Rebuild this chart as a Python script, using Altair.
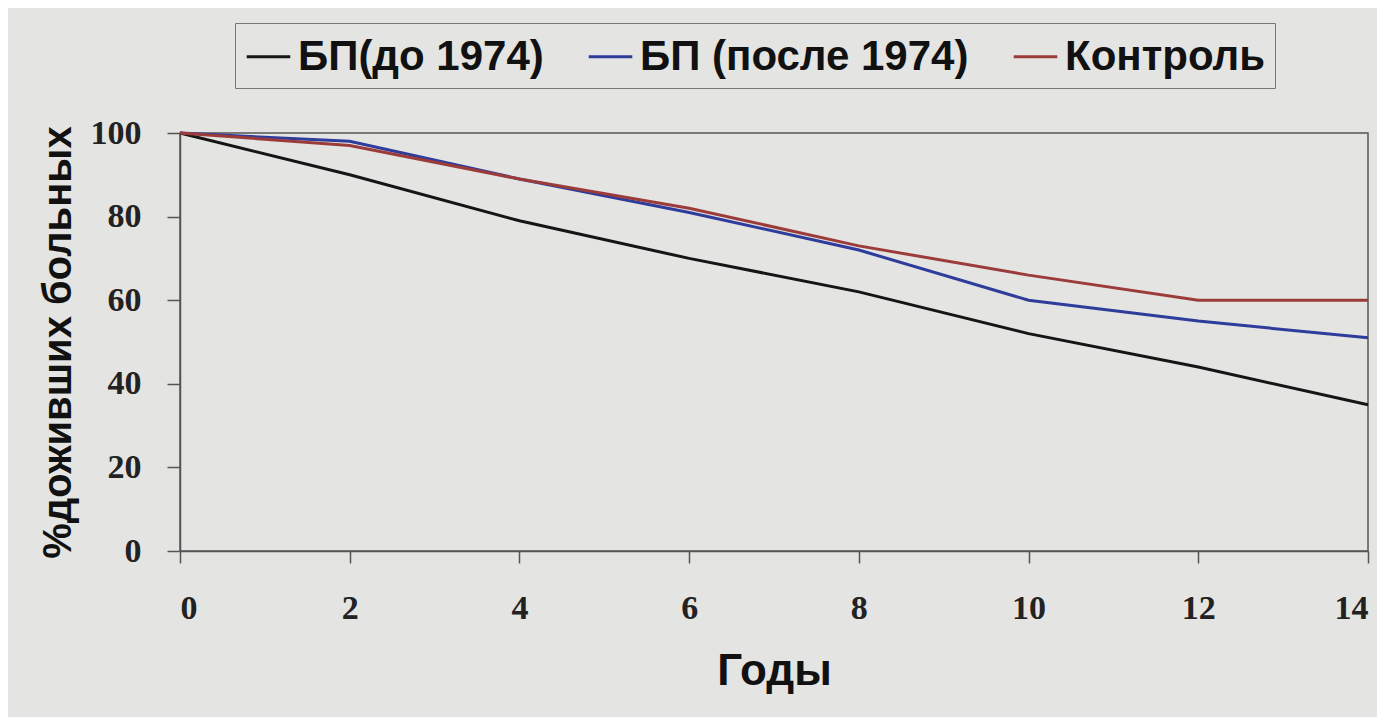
import altair as alt
import pandas as pd

years = [0, 2, 4, 6, 8, 10, 12, 14]
series_names = ["БП(до 1974)", "БП (после 1974)", "Контроль"]
bp_before = [100, 90, 79, 70, 62, 52, 44, 35]
bp_after = [100, 98, 89, 81, 72, 60, 55, 51]
control = [100, 97, 89, 82, 73, 66, 60, 60]
colors = ["#151515", "#2e3c9c", "#9c3c3a"]
x_ticks = [0, 2, 4, 6, 8, 10, 12, 14]
y_ticks = [0, 20, 40, 60, 80, 100]

rows = []
for name, vals in zip(series_names, [bp_before, bp_after, control]):
    for yr, v in zip(years, vals):
        rows.append({"year": yr, "value": v, "series": name})
df = pd.DataFrame(rows)

bg = "#e4e4e2"

chart = (
    alt.Chart(df)
    .mark_line(strokeWidth=3)
    .encode(
        x=alt.X(
            "year:Q",
            scale=alt.Scale(domain=[0, 14], nice=False),
            axis=alt.Axis(
                values=x_ticks,
                title="Годы",
                grid=False,
                labelFont="Liberation Serif",
                labelFontSize=34,
                labelFontWeight="bold",
                labelColor="#222",
                labelPadding=28,
                tickSize=12,
                tickColor="#555",
                domainColor="#555",
                domainWidth=1.5,
                tickWidth=1.5,
                titleFont="Liberation Sans",
                titleFontSize=44,
                titleFontWeight="bold",
                titleColor="#111",
                titlePadding=24,
            ),
        ),
        y=alt.Y(
            "value:Q",
            scale=alt.Scale(domain=[0, 100], nice=False),
            axis=alt.Axis(
                values=y_ticks,
                title="%доживших больных",
                grid=False,
                labelFont="Liberation Serif",
                labelFontSize=34,
                labelFontWeight="bold",
                labelColor="#222",
                labelPadding=26,
                tickSize=13,
                tickColor="#555",
                domainColor="#555",
                domainWidth=1.5,
                tickWidth=1.5,
                titleFont="Liberation Sans",
                titleFontSize=40,
                titleFontWeight="bold",
                titleColor="#111",
                titlePadding=12,
            ),
        ),
        color=alt.Color(
            "series:N",
            sort=series_names,
            scale=alt.Scale(domain=series_names, range=colors),
            legend=alt.Legend(
                orient="none",
                legendX=55,
                legendY=-110,
                direction="horizontal",
                title=None,
                symbolType="stroke",
                symbolSize=1900,
                symbolStrokeWidth=3,
                labelFont="Liberation Sans",
                labelFontSize=42,
                labelFontWeight="bold",
                labelColor="#111",
                labelLimit=1000,
                labelOffset=6,
                columnPadding=38,
                strokeColor="#777",
                padding=10,
                fillColor=bg,
            ),
        ),
    )
    .properties(
        width=1188,
        height=418,
        background=bg,
        autosize=alt.AutoSizeParams(type="none"),
        padding={"left": 172, "top": 125, "right": 9, "bottom": 166},
    )
    .configure_view(stroke="#555", strokeWidth=1.5, fill=bg)
)

chart.save("out.html", embed_options={"renderer": "svg", "actions": False})
